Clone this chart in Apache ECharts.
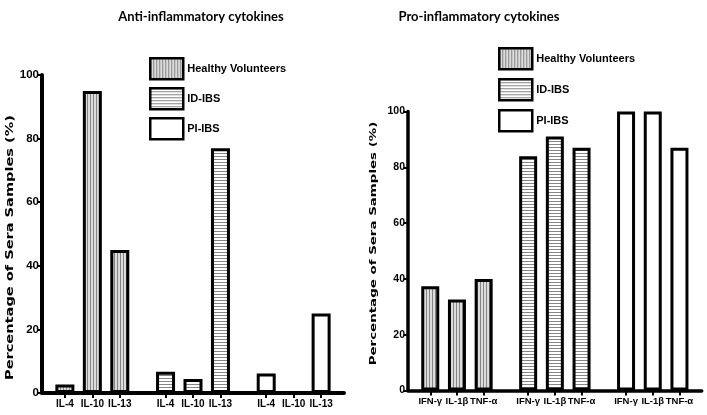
<!DOCTYPE html>
<html><head><meta charset="utf-8">
<script src="https://cdn.jsdelivr.net/npm/echarts@6/dist/echarts.min.js"></script>
<style>html,body{margin:0;padding:0;background:#fff}#c{width:707px;height:415px}</style>
</head><body><div id="c"></div>
<script>
// ---- data ----
const groups = ['Healthy Volunteers', 'ID-IBS', 'PI-IBS'];
const antiCats = ['IL-4', 'IL-10', 'IL-13'];
const antiHV = [2.7, 95, 45];
const antiID = [6.7, 4.4, 77];
const antiPI = [6.1, 0, 25];
const proCats = ['IFN-γ', 'IL-1β', 'TNF-α'];
const proHV = [37.4, 32.6, 40];
const proID = [84, 91, 87];
const proPI = [100, 100, 87];
const yTicks = [0, 20, 40, 60, 80, 100];
const titles = ['Anti-inflammatory cytokines', 'Pro-inflammatory cytokines'];
const yName = 'Percentage of Sera Samples (%)';

// ---- slot layout along x (spacers between groups) ----
const SLOTS = 33, LEAD = 2, STEP = 3, GROUP = 11;
function slotPos(g, j) { return LEAD + g * GROUP + j * STEP + 0.5; }
function slotPositions() {
  const a = [];
  for (let g = 0; g < 3; g++) for (let j = 0; j < 3; j++) a.push(slotPos(g, j));
  return a;
}
function labelFor(cats) {
  const m = {};
  for (let g = 0; g < 3; g++) cats.forEach((c, j) => { m[slotPos(g, j)] = c; });
  return v => (m[v] !== undefined ? m[v] : '');
}
function buildData(g, vals) { return vals.map((v, j) => [slotPos(g, j), v]); }

function stripes(dir) {
  const c = document.createElement('canvas');
  c.width = 3; c.height = 3;
  const x = c.getContext('2d');
  x.fillStyle = dir === 'v' ? '#dcdcdc' : '#ffffff';
  x.fillRect(0, 0, 3, 3);
  x.fillStyle = '#858585';
  if (dir === 'v') x.fillRect(0, 0, 1, 3); else x.fillRect(0, 0, 3, 1);
  return c;
}
const fills = [
  { image: stripes('v'), repeat: 'repeat' },
  { image: stripes('h'), repeat: 'repeat' },
  '#ffffff'
];

const chart = echarts.init(document.getElementById('c'), null, { renderer: 'canvas' });
const tickFont = { fontFamily: 'Liberation Sans', fontWeight: 'bold', color: '#000' };
const narrowFont = { fontFamily: '"Liberation Sans Narrow", "Liberation Sans"', fontWeight: 'bold', color: '#000' };

function xAxis(gi, cats, fs) {
  const pos = slotPositions();
  return {
    gridIndex: gi, type: 'value', min: 0, max: SLOTS,
    axisLine: { show: true, lineStyle: { color: '#000', width: gi === 0 ? 4 : 3.5 } },
    axisTick: { show: true, length: 5, customValues: pos, lineStyle: { color: '#000', width: 2 } },
    axisLabel: Object.assign({ margin: 6, fontSize: fs, customValues: pos, formatter: labelFor(cats) }, narrowFont),
    splitLine: { show: false }
  };
}
function yAxis(gi, fs) {
  return {
    gridIndex: gi, type: 'value', min: yTicks[0], max: yTicks[yTicks.length - 1],
    interval: yTicks[1] - yTicks[0],
    axisLine: { show: true, lineStyle: { color: '#000', width: gi === 0 ? 4 : 3.5 } },
    axisTick: { show: true, length: 4.5, lineStyle: { color: '#000', width: 2 } },
    axisLabel: Object.assign({ margin: 3, fontSize: fs }, tickFont),
    splitLine: { show: false }
  };
}
const seriesVals = [[antiHV, antiID, antiPI], [proHV, proID, proPI]];
const series = [];
for (let c = 0; c < 2; c++) {
  const bw = c === 0 ? 19 : 18;
  for (let g = 0; g < 3; g++) {
    series.push({
      type: 'bar', name: groups[g], xAxisIndex: c, yAxisIndex: c,
      data: buildData(g, seriesVals[c][g]),
      barWidth: bw, barGap: '-100%',
      itemStyle: { color: fills[g], borderColor: '#000', borderWidth: 3 },
      emphasis: { disabled: true }, animation: false
    });
  }
}
function legend(left, top, gap) {
  return {
    left: left, top: top, orient: 'vertical', padding: 0, icon: 'rect',
    itemWidth: 33, itemHeight: 21, itemGap: gap, selectedMode: false,
    itemStyle: { borderColor: '#000', borderWidth: 2.5 },
    textStyle: Object.assign({ fontSize: 11, padding: [0, 0, 0, -1] }, narrowFont),
    data: groups
  };
}
function yTitle(x, y, sx, sy) {
  return {
    type: 'text', x: x, y: y, rotation: Math.PI / 2, scaleX: sx, scaleY: sy,
    style: { text: yName, font: 'bold 13px "DejaVu Sans"', fill: '#000', align: 'center', verticalAlign: 'middle' }
  };
}
const titleStyle = { fontFamily: 'Lato', fontWeight: 'bold', fontSize: 13, color: '#000' };
chart.setOption({
  animation: false,
  title: [
    { text: titles[0], left: 201, top: 10, padding: 0, textAlign: 'center', textStyle: titleStyle },
    { text: titles[1], left: 479, top: 10, padding: 0, textAlign: 'center', textStyle: titleStyle }
  ],
  legend: [legend(149, 57, 6.5), legend(498, 47, 7.5)],
  grid: [
    { left: 42, top: 75, width: 302, height: 318 },
    { left: 408, top: 111.5, width: 293.7, height: 279 }
  ],
  xAxis: [xAxis(0, antiCats, 10), xAxis(1, proCats, 9.5)],
  yAxis: [yAxis(0, 11.5), yAxis(1, 10.5)],
  series: series,
  graphic: [yTitle(10, 247.5, 1.12, 0.75), yTitle(374, 243.5, 1.03, 0.68)]
});
</script>
</body></html>
